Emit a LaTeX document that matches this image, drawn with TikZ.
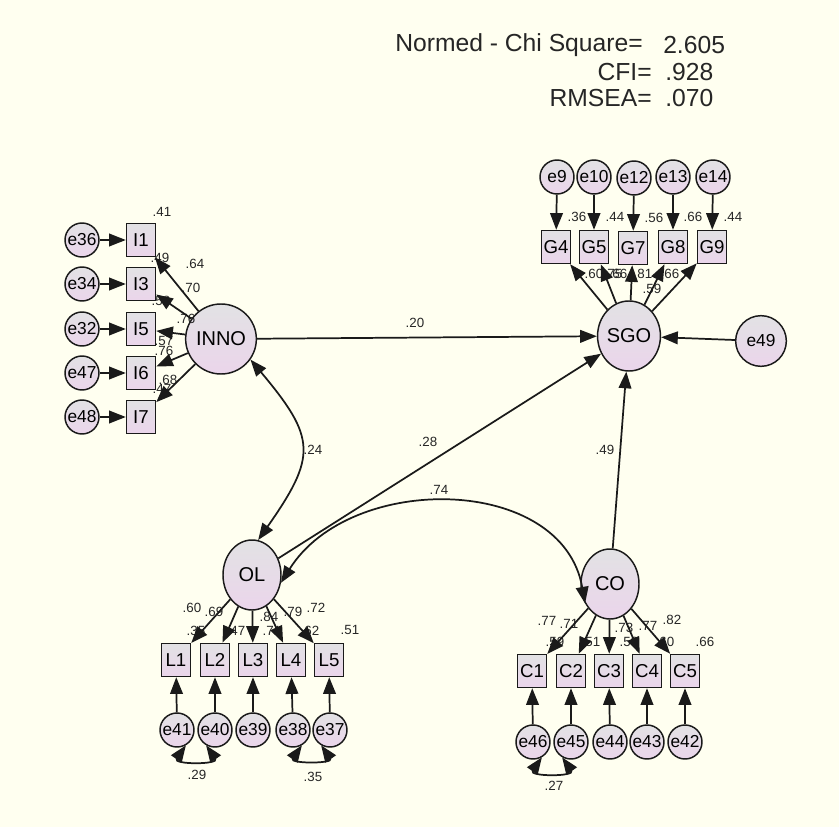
\documentclass[tikz,border=0pt]{standalone}
\usepackage{fontspec}
\setmainfont{Liberation Sans}
\usetikzlibrary{arrows.meta,shapes.geometric}
\definecolor{bgc}{HTML}{FFFFF0}
\definecolor{topc}{HTML}{E2E2E4}
\definecolor{botc}{HTML}{EBD5EB}
\definecolor{linec}{HTML}{1A1A1A}
\definecolor{textc}{HTML}{262626}
\tikzset{
  >={Triangle[length=12.5pt,width=9.5pt]},
  shade/.style={draw=linec,line width=1.1pt,top color=topc,bottom color=botc,inner sep=0pt},
  lat/.style={shade,ellipse,minimum width=43.5pt,minimum height=52.5pt,font=\fontsize{15}{15}\selectfont},
  obs/.style={shade,rectangle,minimum width=21.75pt,minimum height=24.75pt,font=\fontsize{14}{14}\selectfont},
  err/.style={shade,circle,minimum size=25.5pt,font=\fontsize{13}{13}\selectfont},
  est/.style={font=\fontsize{10}{10}\selectfont,text=textc,inner sep=0pt},
  hdr/.style={font=\fontsize{18.5}{18.5}\selectfont,text=textc,inner sep=0pt},
  ptr/.style={->,line width=1.3pt,draw=linec},
  cov/.style={<->,line width=1.3pt,draw=linec},
}
\newcommand{\est}[3]{\node[est] (#1) at (#2) {#3};}

\begin{document}
\begin{tikzpicture}[x=0.75pt,y=-0.75pt]
  \fill[bgc] (0,0) rectangle (839,827);
  % fit indices
  \node[hdr,anchor=east] (h1) at (643,45) {Normed - Chi Square=};
  \node[hdr,anchor=west] (v1) at (663,45) {2.605};
  \node[hdr,anchor=east] (h2) at (652,72) {CFI=};
  \node[hdr,anchor=west] (v2) at (665,72) {.928};
  \node[hdr,anchor=east] (h3) at (652,98) {RMSEA=};
  \node[hdr,anchor=west] (v3) at (665,98) {.070};
  % latent variables
  \node[lat] (INNO) at (221,339) {INNO};
  \node[lat] (SGO) at (629,336) {SGO};
  \node[lat] (OL) at (252,575) {OL};
  \node[lat] (CO) at (610,584) {CO};
  \node[err,minimum size=38pt] (e49) at (761,341) {e49};
  % INNO items
  \node[obs] (I1) at (141,240) {I1};
  \node[obs] (I3) at (141,284) {I3};
  \node[obs] (I5) at (141,329) {I5};
  \node[obs] (I6) at (141,373) {I6};
  \node[obs] (I7) at (141,417) {I7};
  \node[err] (e36) at (82,240) {e36};
  \node[err] (e34) at (82,284) {e34};
  \node[err] (e32) at (82,329) {e32};
  \node[err] (e47) at (82,373) {e47};
  \node[err] (e48) at (82,417) {e48};
  % SGO items
  \node[obs] (G4) at (556,247) {G4};
  \node[obs] (G5) at (594,247) {G5};
  \node[obs] (G7) at (633,248) {G7};
  \node[obs] (G8) at (673,247) {G8};
  \node[obs] (G9) at (712,247) {G9};
  \node[err] (e9) at (557,177) {e9};
  \node[err] (e10) at (594,177) {e10};
  \node[err] (e12) at (634,178) {e12};
  \node[err] (e13) at (673,177) {e13};
  \node[err] (e14) at (713,177) {e14};
  % OL items
  \node[obs] (L1) at (176,660) {L1};
  \node[obs] (L2) at (215,660) {L2};
  \node[obs] (L3) at (253,660) {L3};
  \node[obs] (L4) at (291,660) {L4};
  \node[obs] (L5) at (329,660) {L5};
  \node[err] (e41) at (177,730) {e41};
  \node[err] (e40) at (215,730) {e40};
  \node[err] (e39) at (253,730) {e39};
  \node[err] (e38) at (293,730) {e38};
  \node[err] (e37) at (330,730) {e37};
  % CO items
  \node[obs] (C1) at (532,671) {C1};
  \node[obs] (C2) at (571,671) {C2};
  \node[obs] (C3) at (609,671) {C3};
  \node[obs] (C4) at (647,671) {C4};
  \node[obs] (C5) at (685,671) {C5};
  \node[err] (e46) at (533,742) {e46};
  \node[err] (e45) at (571,742) {e45};
  \node[err] (e44) at (610,742) {e44};
  \node[err] (e43) at (647,742) {e43};
  \node[err] (e42) at (685,742) {e42};

  % estimates (under the paths)
  \est{rI1}{162,212}{.41}\est{rI3}{160,258}{.49}\est{rI5}{161,301}{.58}
  \est{rI6}{164,341}{.57}\est{rI7}{162,389}{.47}
  \est{lI1}{195,264}{.64}\est{lI3}{191,288}{.70}\est{lI5}{186,319}{.76}
  \est{lI6}{164,351}{.76}\est{lI7}{168,380}{.68}
  \est{rG4}{577,217}{.36}\est{rG5}{615,217}{.44}\est{rG7}{654,218}{.56}
  \est{rG8}{693,217}{.66}\est{rG9}{733,217}{.44}
  \est{lG4}{594,274}{.60}\est{lG5}{618,274}{.66}\est{lG7}{613,274}{.75}
  \est{lG8}{643,274}{.81}\est{lG9}{670,274}{.66}\est{rSGO}{652,289}{.59}
  \est{lL1}{192,608}{.60}\est{lL2}{214,612}{.69}\est{lL3}{269,617}{.84}
  \est{lL4}{293,612}{.79}\est{lL5}{316,608}{.72}
  \est{rL1}{196,631}{.35}\est{rL2}{236,631}{.47}\est{rL3}{272,631}{.71}
  \est{rL4}{310,631}{.62}\est{rL5}{350,630}{.51}
  \est{lC1}{547,621}{.77}\est{lC2}{569,624}{.71}\est{lC3}{624,628}{.73}
  \est{lC4}{648,626}{.77}\est{lC5}{672,620}{.82}
  \est{rC1}{555,642}{.59}\est{rC2}{591,642}{.51}\est{rC3}{629,642}{.53}
  \est{rC4}{665,642}{.60}\est{rC5}{705,642}{.66}
  \est{c29}{197,775}{.29}\est{c35}{313,777}{.35}\est{c27}{554,786}{.27}
  \est{pIS}{415,323}{.20}\est{pOS}{428,442}{.28}\est{pCS}{605,450}{.49}
  \est{cIO}{313,450}{.24}\est{cOC}{439,490}{.74}

  % structural paths
  \draw[ptr] (INNO) -- (SGO);
  \draw[ptr] (OL) -- (SGO);
  \draw[ptr] (CO) -- (SGO);
  \draw[ptr] (e49) -- (SGO);
  \draw[cov] (INNO.-35) to[out=-50,in=55,looseness=1.45] (OL.80);
  \draw[cov] (OL.-15) to[out=58,in=100,looseness=1.1] (CO.218);
  % loadings
  \draw[ptr] (INNO) -- (I1); \draw[ptr] (INNO) -- (I3); \draw[ptr] (INNO) -- (I5);
  \draw[ptr] (INNO) -- (I6); \draw[ptr] (INNO) -- (I7);
  \draw[ptr] (SGO) -- (G4); \draw[ptr] (SGO) -- (G5); \draw[ptr] (SGO) -- (G7);
  \draw[ptr] (SGO) -- (G8); \draw[ptr] (SGO) -- (G9);
  \draw[ptr] (OL) -- (L1); \draw[ptr] (OL) -- (L2); \draw[ptr] (OL) -- (L3);
  \draw[ptr] (OL) -- (L4); \draw[ptr] (OL) -- (L5);
  \draw[ptr] (CO) -- (C1); \draw[ptr] (CO) -- (C2); \draw[ptr] (CO) -- (C3);
  \draw[ptr] (CO) -- (C4); \draw[ptr] (CO) -- (C5);
  % error terms
  \draw[ptr] (e36) -- (I1); \draw[ptr] (e34) -- (I3); \draw[ptr] (e32) -- (I5);
  \draw[ptr] (e47) -- (I6); \draw[ptr] (e48) -- (I7);
  \draw[ptr] (e9) -- (G4); \draw[ptr] (e10) -- (G5); \draw[ptr] (e12) -- (G7);
  \draw[ptr] (e13) -- (G8); \draw[ptr] (e14) -- (G9);
  \draw[ptr] (e41) -- (L1); \draw[ptr] (e40) -- (L2); \draw[ptr] (e39) -- (L3);
  \draw[ptr] (e38) -- (L4); \draw[ptr] (e37) -- (L5);
  \draw[ptr] (e46) -- (C1); \draw[ptr] (e45) -- (C2); \draw[ptr] (e44) -- (C3);
  \draw[ptr] (e43) -- (C4); \draw[ptr] (e42) -- (C5);
  % correlated errors
  \draw[cov] (e41.-60) to[out=-125,in=-55,looseness=3] (e40.-120);
  \draw[cov] (e38.-60) to[out=-125,in=-55,looseness=3] (e37.-120);
  \draw[cov] (e46.-60) to[out=-125,in=-55,looseness=3] (e45.-120);
\end{tikzpicture}
\end{document}
